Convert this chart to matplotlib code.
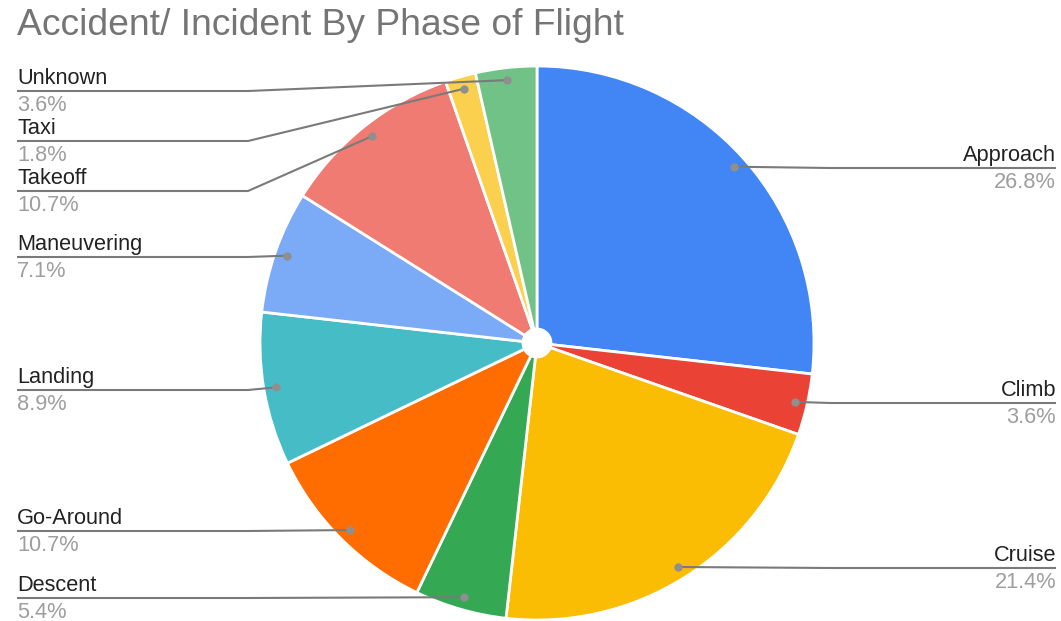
import numpy as np
import matplotlib
matplotlib.use("Agg")
import matplotlib.pyplot as plt

# data
phases = ["Approach", "Climb", "Cruise", "Descent", "Go-Around",
          "Landing", "Maneuvering", "Takeoff", "Taxi", "Unknown"]
counts = [15, 2, 12, 3, 6, 5, 4, 6, 1, 2]
colors = ["#4285F4", "#EA4335", "#FBBC04", "#34A853", "#FF6D01",
          "#46BDC6", "#7BAAF7", "#F07B72", "#FCD04F", "#71C287"]

# layout (pixels, measured from top)
W, H = 1061, 621
CX, CY, R, HOLE = 537, 343, 277, 14
label_line_y = {"Approach": 168, "Climb": 403, "Cruise": 568, "Descent": 598,
                "Go-Around": 531, "Landing": 390, "Maneuvering": 257,
                "Takeoff": 191, "Taxi": 141, "Unknown": 91}

plt.rcParams['font.family'] = ['Liberation Sans', 'DejaVu Sans']

fig = plt.figure(figsize=(W / 100, H / 100), dpi=100)
ax = fig.add_axes([0, 0, 1, 1])

def py(y):
    return H - y

ax.pie(counts, colors=colors, startangle=90, counterclock=False,
       center=(CX, py(CY)), radius=R,
       wedgeprops=dict(width=R - HOLE, edgecolor='white', linewidth=2))

ax.set_xlim(0, W)
ax.set_ylim(0, H)
ax.set_aspect('equal')
ax.axis('off')

total = sum(counts)
cum = np.cumsum([0] + counts[:-1])
line_col = '#7a7a7a'
for name, c, start in zip(phases, counts, cum):
    phi = np.deg2rad(360 * (start + c / 2) / total)
    dx = 0.955 * R * np.sin(phi)
    dy = 0.955 * R * np.cos(phi)
    px, pyy = CX + dx, py(CY) + dy
    ly = py(label_line_y[name])
    pct = f"{100 * c / total:.1f}%"
    if dx >= 0:
        xs = [W - 5, 830, px]
        ha, tx = 'right', W - 5
    else:
        xs = [17, 248, px]
        ha, tx = 'left', 17
    ax.plot(xs, [ly, ly, pyy], color=line_col, lw=1.5, zorder=3,
            solid_capstyle='butt')
    ax.plot(px, pyy, 'o', color='#8f8f8f', ms=6, mec='none', zorder=4)
    ax.text(tx, ly + 7, name, ha=ha, va='baseline', fontsize=15.7,
            color='#222222')
    ax.text(tx, ly - 20, pct, ha=ha, va='baseline', fontsize=15.7,
            color='#9e9e9e')

ax.text(17, py(35), "Accident/ Incident By Phase of Flight", ha='left',
        va='baseline', fontsize=26.8, color='#757575')

fig.savefig("out.png", dpi=100, facecolor='white')
